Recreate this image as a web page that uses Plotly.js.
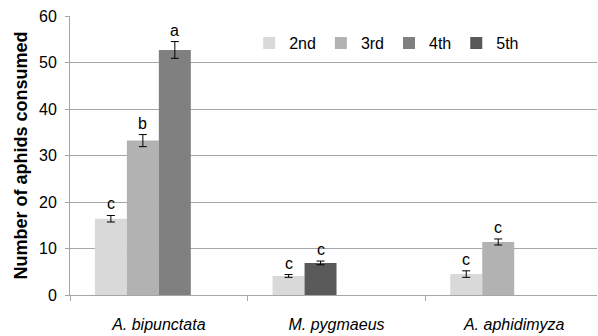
<!DOCTYPE html>
<html>
<head>
<meta charset="utf-8">
<script src="https://cdn.plot.ly/plotly-3.0.1.min.js"></script>
<style>html,body{margin:0;padding:0;background:#fff;}#chart{width:598px;height:336px;}</style>
</head>
<body>
<div id="chart"></div>
<script>
// Data
var categories = ["A. bipunctata", "M. pygmaeus", "A. aphidimyza"];
var seriesNames = ["2nd", "3rd", "4th", "5th"];
var seriesColors = ["#d9d9d9", "#b2b2b2", "#808080", "#595959"];
var values2nd = [16.4, 4.1, 4.5];
var values3rd = [33.2, null, 11.4];
var values4th = [52.7, null, null];
var values5th = [null, 6.9, null];
var errors2nd = [0.7, 0.3, 0.7];
var errors3rd = [1.3, 0, 0.65];
var errors4th = [1.8, 0, 0];
var errors5th = [0, 0.4, 0];
var letters2nd = ["c", "c", "c"];
var letters3rd = ["b", "", "c"];
var letters4th = ["a", "", ""];
var letters5th = ["", "c", ""];

var allValues = [values2nd, values3rd, values4th, values5th];
var allErrors = [errors2nd, errors3rd, errors4th, errors5th];
var allLetters = [letters2nd, letters3rd, letters4th, letters5th];

var slotWidth = 0.18;
var groupStart = -2 * slotWidth;
var FONT = "Liberation Sans, Arial, sans-serif";

// pack present bars into consecutive slots within each category
var slotIndex = allValues.map(function(){ return [0,0,0]; });
for (var c = 0; c < categories.length; c++) {
  var k = 0;
  for (var s = 0; s < allValues.length; s++) {
    if (allValues[s][c] !== null) { slotIndex[s][c] = k; k++; }
  }
}

var traces = [];
var annotations = [];
for (var s = 0; s < seriesNames.length; s++) {
  var offs = slotIndex[s].map(function(k){ return groupStart + k * slotWidth; });
  traces.push({
    type: "bar",
    name: seriesNames[s],
    x: categories,
    y: allValues[s],
    offset: offs,
    width: slotWidth,
    marker: {color: seriesColors[s], line: {width: 0}},
    error_y: {type: "data", array: allErrors[s], visible: true, color: "#000", thickness: 1, width: 4},
    hoverinfo: "none"
  });
  for (var c = 0; c < categories.length; c++) {
    if (allValues[s][c] !== null && allLetters[s][c]) {
      annotations.push({
        x: c + offs[c] + slotWidth / 2,
        y: allValues[s][c] + allErrors[s][c],
        xref: "x", yref: "y",
        text: allLetters[s][c],
        showarrow: false,
        yanchor: "bottom",
        yshift: 1,
        font: {family: FONT, size: 16, color: "#000"}
      });
    }
  }
}

var layout = {
  width: 598, height: 336,
  margin: {l: 70, r: 1, t: 16, b: 41},
  paper_bgcolor: "#fff", plot_bgcolor: "#fff",
  barmode: "overlay",
  showlegend: true,
  legend: {
    orientation: "h", x: 0.34, y: 0.903, xanchor: "left", yanchor: "middle",
    font: {family: FONT, size: 16, color: "#000"},
    itemwidth: 30,
    bgcolor: "rgba(0,0,0,0)"
  },
  font: {family: FONT, color: "#000"},
  xaxis: {
    type: "category",
    range: [-0.5, 2.466],
    tickson: "boundaries",
    ticks: "outside", ticklen: 5, tickcolor: "#a6a6a6",
    showline: true, linecolor: "#a6a6a6", linewidth: 1,
    showgrid: false,
    ticklabelstandoff: 15,
    tickfont: {family: FONT, size: 16, color: "#000", style: "italic"},
    fixedrange: true
  },
  yaxis: {
    range: [0, 60], dtick: 10,
    ticks: "outside", ticklen: 4, tickcolor: "#a6a6a6",
    showline: true, linecolor: "#a6a6a6", linewidth: 1,
    showgrid: true, gridcolor: "#a6a6a6", gridwidth: 1,
    zeroline: false,
    ticklabelstandoff: 5,
    tickfont: {family: FONT, size: 16, color: "#000"},
    title: {text: "<b>Number of aphids consumed</b>", font: {family: FONT, size: 18, color: "#000"}, standoff: 6},
    fixedrange: true
  },
  annotations: annotations
};

Plotly.newPlot("chart", traces, layout, {displayModeBar: false, staticPlot: true});
</script>
</body>
</html>
